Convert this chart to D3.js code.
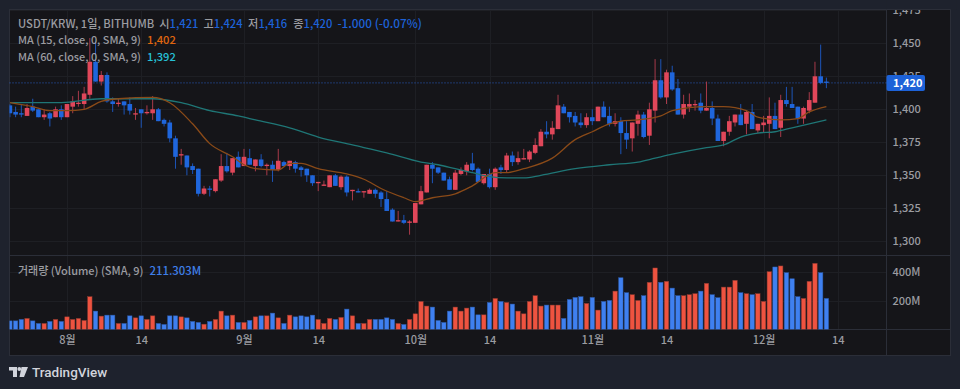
<!DOCTYPE html>
<html>
<head>
<meta charset="utf-8">
<script src="https://cdn.jsdelivr.net/npm/d3@7"></script>
<style>
  html, body { margin: 0; padding: 0; background: #1e222d; }
  svg { display: block; }
  text { font-family: "Noto Sans CJK KR", "Noto Sans", sans-serif; }
</style>
</head>
<body>
<svg id="chart" width="960" height="389"></svg>
<script>
const opens = [
  1403,1398,1397,1395,1402,1400,1394,1397,1394,1400,
  1394,1402,1404,1404,1411,1436,1421,1426,1406,1404,
  1406,1404,1396,1400,1397,1397,1400,1392,1390,1378,
  1365,1365,1357,1355,1336,1340,1338,1346,1357,1352,
  1364,1357,1363,1357,1362,1357,1358,1354,1360,1357,
  1360,1356,1355,1350,1344,1342,1341,1350,1341,1349,
  1338,1338,1337,1336,1339,1337,1332,1324,1315,1316,
  1314,1314,1328,1337,1358,1356,1352,1347,1339,1351,
  1353,1359,1355,1344,1351,1341,1356,1354,1365,1360,
  1362,1362,1367,1372,1383,1381,1385,1402,1398,1395,
  1390,1388,1394,1391,1402,1395,1389,1391,1382,1378,
  1389,1396,1380,1399,1422,1409,1428,1416,1396,1402,
  1403,1405,1399,1401,1393,1376,1383,1390,1396,1389,
  1398,1384,1388,1389,1395,1386,1407,1404,1402,1393,
  1399,1405,1425,1421
];
const highs = [
  1404,1402,1404,1404,1408,1400,1400,1398,1402,1403,
  1404,1410,1414,1417,1454,1452,1429,1428,1409,1408,
  1406,1409,1401,1400,1403,1410,1401,1393,1392,1380,
  1370,1365,1359,1355,1342,1342,1347,1366,1367,1363,
  1368,1370,1370,1362,1366,1359,1361,1370,1361,1361,
  1361,1357,1355,1350,1345,1346,1350,1351,1350,1350,
  1339,1340,1338,1340,1340,1338,1338,1325,1323,1320,
  1316,1329,1342,1358,1360,1356,1352,1349,1354,1356,
  1360,1367,1356,1351,1355,1356,1358,1367,1368,1368,
  1370,1369,1378,1385,1391,1391,1411,1404,1398,1398,
  1397,1397,1400,1402,1406,1402,1397,1394,1391,1390,
  1399,1398,1405,1438,1438,1430,1433,1423,1411,1412,
  1407,1412,1421,1406,1396,1383,1395,1396,1404,1399,
  1404,1389,1395,1409,1405,1411,1417,1417,1402,1402,
  1413,1436,1449,1424
];
const lows = [
  1394,1394,1394,1395,1398,1394,1392,1387,1394,1392,
  1394,1397,1402,1400,1408,1421,1418,1405,1398,1402,
  1396,1396,1392,1386,1396,1392,1391,1387,1375,1355,
  1358,1350,1351,1334,1335,1334,1337,1345,1352,1350,
  1356,1357,1358,1353,1356,1350,1345,1353,1357,1354,
  1352,1349,1345,1342,1338,1342,1341,1342,1339,1334,
  1331,1337,1333,1336,1333,1326,1323,1315,1315,1313,
  1305,1314,1328,1337,1344,1351,1346,1339,1339,1350,
  1350,1353,1345,1343,1340,1339,1351,1352,1357,1358,
  1362,1360,1366,1372,1378,1377,1385,1397,1390,1387,
  1386,1386,1388,1391,1394,1387,1387,1366,1370,1368,
  1380,1378,1373,1390,1408,1404,1414,1396,1393,1398,
  1399,1397,1399,1388,1376,1372,1380,1387,1388,1381,
  1385,1382,1382,1378,1385,1379,1402,1401,1389,1389,
  1397,1405,1419,1416
];
const closes = [
  1397,1396,1396,1401,1399,1394,1396,1393,1400,1394,
  1404,1406,1405,1412,1436,1421,1426,1406,1404,1405,
  1403,1399,1397,1397,1398,1400,1391,1389,1378,1364,
  1366,1356,1354,1336,1340,1339,1347,1357,1353,1363,
  1356,1364,1358,1362,1357,1358,1354,1361,1357,1361,
  1355,1354,1350,1344,1345,1343,1350,1342,1349,1337,
  1339,1337,1338,1339,1336,1332,1323,1315,1316,1314,
  1315,1329,1338,1358,1355,1352,1346,1339,1352,1354,
  1358,1354,1345,1351,1341,1355,1354,1365,1360,1363,
  1363,1368,1373,1383,1381,1386,1403,1397,1394,1390,
  1388,1394,1391,1402,1394,1389,1391,1382,1377,1390,
  1396,1379,1400,1422,1409,1428,1415,1396,1404,1404,
  1404,1399,1401,1393,1376,1383,1391,1396,1388,1398,
  1385,1389,1390,1395,1385,1407,1404,1401,1393,1401,
  1407,1425,1420,1420
];
const volumes = [
  60,60,70,77,60,42,42,56,70,56,
  88,70,77,63,228,128,93,100,100,42,
  42,95,81,95,70,95,42,35,95,95,
  88,81,56,49,37,56,70,128,95,100,
  49,49,63,88,95,95,114,81,42,100,
  88,95,88,100,70,42,77,70,84,142,
  95,42,42,70,70,70,81,70,42,35,
  70,109,195,163,156,63,49,128,156,128,
  149,156,102,102,188,216,195,188,177,128,
  109,195,235,163,170,170,170,77,209,223,
  228,181,223,135,195,202,267,360,256,242,
  202,235,328,428,328,335,288,235,235,242,
  249,267,321,242,221,295,295,342,256,249,
  242,249,195,402,435,442,395,353,228,216,
  335,460,395,216
];

const ma15Days = [0,4,7,10,13,16,19,25,28,32,35,39,41,43,47,49,51,54,59,62,65,69,71,74,78,81,85,87,90,95,99,102,105,107,110,114,116,122,125,129,131,135,138,140,143];
const ma15Values = [1405,1402,1399,1399,1400,1406,1408,1409,1405,1389,1374,1364,1358,1355,1354,1359,1359,1355,1351,1347,1340,1333,1330,1333,1336,1342,1352,1352,1355,1363,1377,1383,1389,1391,1392,1395,1399,1402,1402,1399,1394,1392,1393,1398,1402];
const ma60Days = [0,9,16,25,30,35,40,43,49,54,60,66,72,75,78,81,84,87,90,93,99,105,110,113,116,122,125,128,131,134,137,140,143];
const ma60Values = [1405,1405,1408,1408,1405,1399,1395,1392,1386,1379,1373,1367,1360,1358,1355,1352,1349,1348,1348,1350,1355,1358,1360,1363,1366,1371,1373,1379,1382,1383,1386,1389,1392];

const priceTicks = [1300,1325,1350,1375,1400,1425,1450,1475];
const volumeTicks = [200,400];
const timeTickDays = [10,23,41,54,71,84,102,115,132,145];
const timeTickLabels = ['8월','14','9월','14','10월','14','11월','14','12월','14'];
const lastPrice = 1420;

const frame = { left: 9.5, right: 950.5, top: 9.5, bottom: 355.5, axisX: 886.5, paneY: 255.5, timeY: 329.5 };
const col = {
  outer: '#1e222d', pane: '#151519', grid: '#1e1f24', line: '#2b2e38', text: '#9b9ca1',
  up: '#e0475a', down: '#1f66dc', upWick: '#a83a4a', downWick: '#1d55b8',
  volUp: '#ee5340', volDown: '#3f80f0', volUpEdge: '#8e3a30', volDownEdge: '#2c5aa8',
  ma15: '#8a4a18', ma60: '#1f7676', ma15Text: '#e0660f', ma60Text: '#26c0d6', label: '#1d62d8'
};

const svg = d3.select('#chart');
const days = d3.range(opens.length);

const x = d3.scaleLinear().domain([10, 145]).range([67, 837.8]);
const y = d3.scaleLinear().domain([1300, 1450]).range([241.3, 43.3]);
const yVol = d3.scaleLinear().domain([0, 400]).range([frame.timeY, 272]);

// panes
svg.append('rect').attr('width', 960).attr('height', 389).attr('fill', col.outer);
svg.append('rect')
  .attr('x', frame.left).attr('y', frame.top)
  .attr('width', frame.right - frame.left).attr('height', frame.bottom - frame.top)
  .attr('fill', col.pane).attr('stroke', col.line);

const defs = svg.append('defs');
defs.append('clipPath').attr('id', 'plot-clip').append('rect')
  .attr('x', frame.left).attr('y', frame.top)
  .attr('width', frame.axisX - frame.left).attr('height', frame.paneY - frame.top);
defs.append('clipPath').attr('id', 'vol-clip').append('rect')
  .attr('x', frame.left).attr('y', frame.paneY)
  .attr('width', frame.axisX - frame.left).attr('height', frame.timeY - frame.paneY);

// grid
const grid = svg.append('g').attr('stroke', col.grid).attr('shape-rendering', 'crispEdges');
grid.selectAll('.v').data(timeTickDays).join('line').attr('class', 'v')
  .attr('x1', d => Math.round(x(d)) + 0.5).attr('x2', d => Math.round(x(d)) + 0.5)
  .attr('y1', frame.top).attr('y2', frame.timeY);
grid.selectAll('.h').data(priceTicks).join('line').attr('class', 'h')
  .attr('x1', frame.left).attr('x2', frame.axisX)
  .attr('y1', d => Math.round(y(d)) + 0.5).attr('y2', d => Math.round(y(d)) + 0.5);
grid.selectAll('.hv').data(volumeTicks).join('line').attr('class', 'hv')
  .attr('x1', frame.left).attr('x2', frame.axisX)
  .attr('y1', d => Math.round(yVol(d)) + 0.5).attr('y2', d => Math.round(yVol(d)) + 0.5);

// separators
const seps = svg.append('g').attr('stroke', col.line).attr('shape-rendering', 'crispEdges');
seps.append('line').attr('x1', frame.left).attr('x2', frame.right).attr('y1', frame.paneY).attr('y2', frame.paneY);
seps.append('line').attr('x1', frame.left).attr('x2', frame.right).attr('y1', frame.timeY).attr('y2', frame.timeY);
seps.append('line').attr('x1', frame.axisX).attr('x2', frame.axisX).attr('y1', frame.top).attr('y2', frame.bottom);

// last price line
svg.append('line')
  .attr('x1', frame.left).attr('x2', frame.axisX)
  .attr('y1', y(lastPrice)).attr('y2', y(lastPrice))
  .attr('stroke', '#2a5cc0').attr('stroke-dasharray', '1,2');

// candles
const plot = svg.append('g').attr('clip-path', 'url(#plot-clip)');
const isUp = i => closes[i] >= opens[i];

plot.selectAll('.wick').data(days).join('line').attr('class', 'wick')
  .attr('x1', i => x(i)).attr('x2', i => x(i))
  .attr('y1', i => y(highs[i])).attr('y2', i => y(lows[i]))
  .attr('stroke', i => isUp(i) ? col.upWick : col.downWick);

plot.selectAll('.body').data(days).join('rect').attr('class', 'body')
  .attr('x', i => x(i) - 2.3).attr('width', 4.6)
  .attr('y', i => y(Math.max(opens[i], closes[i])))
  .attr('height', i => Math.max(1, Math.abs(y(opens[i]) - y(closes[i]))))
  .attr('fill', i => isUp(i) ? col.up : col.down);

// moving averages
const maLine = (dayList, values) => d3.line()
  .x((d, i) => x(dayList[i]))
  .y(d => y(d))
  .curve(d3.curveMonotoneX)(values);

plot.append('path').attr('d', maLine(ma60Days, ma60Values))
  .attr('fill', 'none').attr('stroke', col.ma60).attr('stroke-width', 1.3);
plot.append('path').attr('d', maLine(ma15Days, ma15Values))
  .attr('fill', 'none').attr('stroke', col.ma15).attr('stroke-width', 1.3);

// volume
svg.append('g').attr('clip-path', 'url(#vol-clip)')
  .selectAll('rect').data(days).join('rect')
  .attr('x', i => x(i) - 2.2).attr('width', 4.4)
  .attr('y', i => yVol(volumes[i]))
  .attr('height', i => frame.timeY - yVol(volumes[i]))
  .attr('fill', i => isUp(i) ? col.volUp : col.volDown)
  .attr('stroke', i => isUp(i) ? col.volUpEdge : col.volDownEdge)
  .attr('stroke-width', 0.5);

// axes
const styleAxis = g => {
  g.select('.domain').remove();
  g.selectAll('.tick line').remove();
  g.selectAll('text').attr('fill', col.text).attr('font-size', '11px').attr('font-weight', 500)
    .style('font-family', '"Noto Sans CJK KR", "Noto Sans", sans-serif');
};

svg.append('g')
  .attr('transform', `translate(${frame.axisX}, 0)`)
  .call(d3.axisRight(y).tickValues(priceTicks).tickFormat(d3.format(',')).tickSize(0).tickPadding(6))
  .call(styleAxis);

svg.append('g')
  .attr('transform', `translate(${frame.axisX}, 0)`)
  .call(d3.axisRight(yVol).tickValues(volumeTicks).tickFormat(d => d + 'M').tickSize(0).tickPadding(6))
  .call(styleAxis);

svg.append('g')
  .attr('transform', `translate(0, ${frame.timeY})`)
  .call(d3.axisBottom(x).tickValues(timeTickDays).tickFormat((d, i) => timeTickLabels[i]).tickSize(0).tickPadding(7))
  .call(styleAxis);

// cover the part of the top tick above the frame
svg.append('rect').attr('x', frame.axisX).attr('y', 0).attr('width', 70).attr('height', frame.top)
  .attr('fill', col.outer);
svg.append('line').attr('x1', frame.axisX).attr('x2', frame.right).attr('y1', frame.top).attr('y2', frame.top)
  .attr('stroke', col.line);

// last price tag
svg.append('rect').attr('x', frame.axisX).attr('y', y(lastPrice) - 8).attr('width', 38.5).attr('height', 16)
  .attr('rx', 2).attr('fill', col.label);
svg.append('text').attr('x', frame.axisX + 6.5).attr('y', y(lastPrice) + 4)
  .attr('fill', '#fff').attr('font-size', '11px').attr('font-weight', 700).text(d3.format(',')(lastPrice));

// legends
const legend = (yPos, parts) => {
  const t = svg.append('text').attr('x', 18).attr('y', yPos).attr('font-size', '11.2px').attr('font-weight', 500);
  parts.forEach(p => {
    t.append('tspan').attr('dx', p.dx || 0).attr('fill', p.color || col.text)
      .attr('font-size', p.size || null).text(p.text);
  });
};
legend(27.5, [
  { text: 'USDT/KRW, 1일, BITHUMB' },
  { text: '시', dx: 5 }, { text: '1,421', color: col.label },
  { text: '고', dx: 5 }, { text: '1,424', color: col.label },
  { text: '저', dx: 5.5 }, { text: '1,416', color: col.label },
  { text: '종', dx: 6 }, { text: '1,420', color: col.label },
  { text: '-1.000 (-0.07%)', color: col.label, dx: 5, size: '11.8px' }
]);
legend(44, [{ text: 'MA (15, close, 0, SMA, 9)', size: '10.9px' }, { text: '1,402', color: col.ma15Text, dx: 6 }]);
legend(60.5, [{ text: 'MA (60, close, 0, SMA, 9)', size: '10.9px' }, { text: '1,392', color: col.ma60Text, dx: 6 }]);
legend(274.5, [{ text: '거래량 (Volume) (SMA, 9)', size: '11px' }, { text: '211.303M', color: '#3f7fe8', dx: 6, size: '11.4px' }]);

// footer logo
svg.append('path')
  .attr('d', 'M9 367h8v10h-4v-6.5h-4z M21.5 367h6.5l-4 10h-4.5z')
  .attr('fill', '#d1d4dc');
svg.append('circle').attr('cx', 19.3).attr('cy', 369).attr('r', 1.9).attr('fill', '#d1d4dc');
svg.append('text').attr('x', 32).attr('y', 377)
  .attr('fill', '#d1d4dc').attr('font-size', '13.5px').attr('font-weight', 500)
  .style('font-family', 'Roboto, sans-serif').text('TradingView');
</script>
</body>
</html>
